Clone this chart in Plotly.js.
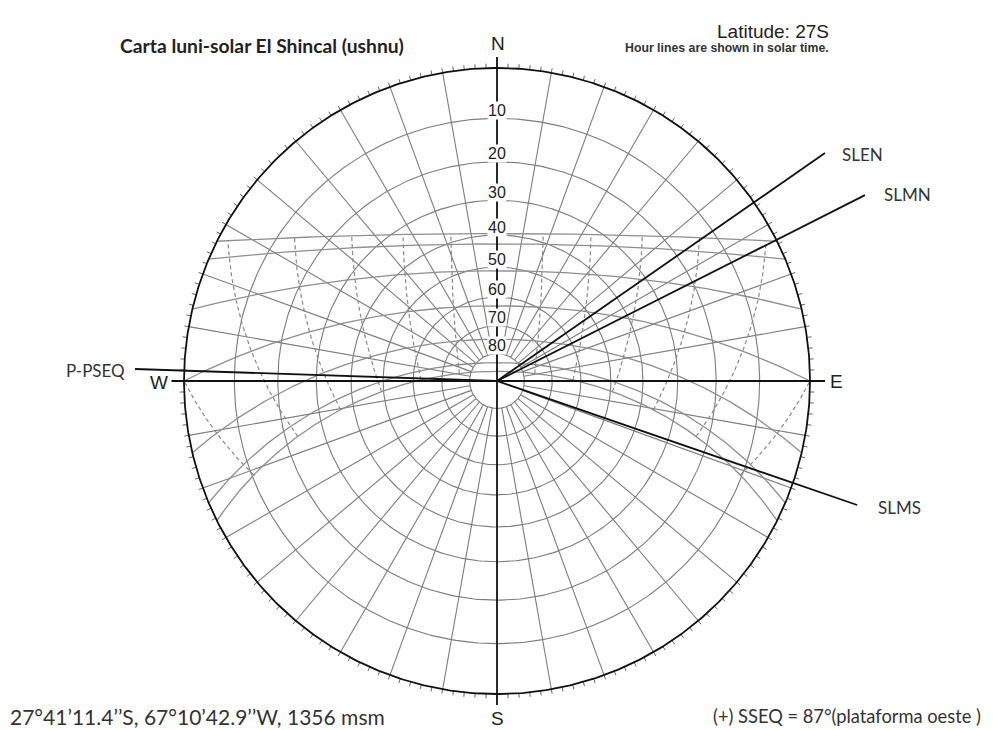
<!DOCTYPE html>
<html><head><meta charset="utf-8">
<script src="https://cdn.plot.ly/plotly-3.0.1.min.js"></script>
<style>html,body{margin:0;padding:0;background:#fff}#chart{width:993px;height:730px}</style>
</head><body><div id="chart"></div>
<script>
// ---------------- data ----------------
const latitude = -27;                         // degrees (27S)
const altitudeCircles = [10, 20, 30, 40, 50, 60, 70, 80];
const altitudeLabels = ['10', '20', '30', '40', '50', '60', '70', '80'];
const azimuthSpokes = [10, 20, 30, 40, 50, 60, 70, 80, 100, 110, 120, 130, 140, 150, 160, 170,
                       190, 200, 210, 220, 230, 240, 250, 260, 280, 290, 300, 310, 320, 330, 340, 350];
const sunDeclinations = [23.44, 20.3, 11.8, 0, -11.8, -20.3, -23.44];   // 21st of each month
const solarHours = [6, 7, 8, 9, 10, 11, 12, 13, 14, 15, 16, 17, 18];
const cardinalNames = ['N', 'E', 'S', 'W'];
const cardinalAz = [0, 90, 180, 270];
const alignmentNames = ['SLEN', 'SLMN', 'SLMS', 'P-PSEQ'];
const alignmentAz = [55.2, 63.2, 109.0, 271.9];
const tickStepDeg = 2;
const titleText = 'Carta luni-solar El Shincal (ushnu)';
const latitudeText = 'Latitude: 27S';
const noteText = 'Hour lines are shown in solar time.';
const coordText = '27°41’11.4’’S, 67°10’42.9’’W, 1356 msm';
const sseqText = '(+) SSEQ = 87°(plataforma oeste )';

// ---------------- layout helpers (pixel geometry) ----------------
const CX = 497, CY = 381, R = 313;
const alignmentReach = [1.276, 1.317, 1.217, 1.157];
const D = Math.PI / 180;
const px = p => (p - CX) / R;
const py = p => (CY - p) / R;

function rOf(alt) { return Math.tan((90 - alt) / 2 * D); }      // stereographic
function xyR(r, az) { return [r * Math.sin(az * D), r * Math.cos(az * D)]; }
function xy(alt, az) { return xyR(rOf(alt), az); }

function sunAltAz(dec, H) {
  const phi = latitude * D, d = dec * D, h = H * D;
  const sa = Math.sin(phi) * Math.sin(d) + Math.cos(phi) * Math.cos(d) * Math.cos(h);
  const alt = Math.asin(Math.max(-1, Math.min(1, sa))) / D;
  const az = Math.atan2(-Math.sin(h) * Math.cos(d),
    Math.cos(phi) * Math.sin(d) - Math.sin(phi) * Math.cos(d) * Math.cos(h)) / D;
  return [alt, (az + 360) % 360];
}

const traces = [];
function addLines(segs, color, width, dash) {
  const X = [], Y = [];
  segs.forEach(s => { s.forEach(p => { X.push(p[0]); Y.push(p[1]); }); X.push(null); Y.push(null); });
  traces.push({ type: 'scatter', mode: 'lines', x: X, y: Y, hoverinfo: 'skip', showlegend: false,
    line: { color: color, width: width, dash: dash || 'solid' } });
}

// altitude circles
addLines(altitudeCircles.map(a => { const s = []; for (let z = 0; z <= 360; z += 1) s.push(xy(a, z)); return s; }), '#7c7c7c', 1.1);
// azimuth spokes (from 80 deg altitude circle to horizon)
addLines(azimuthSpokes.map(z => [xy(80, z), xy(0, z)]), '#7c7c7c', 1.1);

// sun paths
addLines(sunDeclinations.map(dec => {
  const phi = latitude * D;
  const c = -Math.tan(phi) * Math.tan(dec * D);
  const H0 = Math.acos(Math.max(-1, Math.min(1, c))) / D;
  const s = [];
  for (let i = 0; i <= 240; i++) {
    const H = -H0 + 2 * H0 * i / 240;
    const aa = sunAltAz(dec, H);
    s.push(xy(Math.max(0, aa[0]), aa[1]));
  }
  return s;
}), '#8e8e8e', 1.3);

// hour lines (dashed)
addLines(solarHours.map(hr => {
  const H = 15 * (hr - 12);
  const dmin = Math.min(...sunDeclinations), dmax = Math.max(...sunDeclinations);
  const s = []; const N = 300;
  let prev = null;
  for (let i = 0; i <= N; i++) {
    const dec = dmin + (dmax - dmin) * i / N;
    const aa = sunAltAz(dec, H);
    if (prev && (prev.alt >= 0) !== (aa[0] >= 0)) {
      let lo = prev.dec, hi = dec;
      for (let k = 0; k < 40; k++) {
        const mid = (lo + hi) / 2; const am = sunAltAz(mid, H)[0];
        if ((am >= 0) === (prev.alt >= 0)) lo = mid; else hi = mid;
      }
      const ac = sunAltAz((lo + hi) / 2, H);
      s.push(xy(0, ac[1]));
    }
    if (aa[0] >= 0) s.push(xy(aa[0], aa[1]));
    prev = { alt: aa[0], dec: dec };
  }
  return s;
}).filter(s => s.length > 1), '#888', 1.2, '4px,3px');

// outer tick marks
const tickSegs = [];
for (let z = 0; z < 360; z += tickStepDeg) tickSegs.push([xyR(1, z), xyR(1 + 4.5 / R, z)]);
addLines(tickSegs, '#666', 1);

// horizon circle
{ const s = []; for (let z = 0; z <= 360; z += 0.5) s.push(xy(0, z)); addLines([s], '#111', 1.8); }

// main axes N-S and E-W
addLines([[xyR(1.035, 0), xyR(1.035, 180)], [xyR(1.04, 270), xyR(1.048, 90)]], '#111', 1.8);

// alignment lines
addLines(alignmentAz.map((z, i) => [[0, 0], xyR(alignmentReach[i], z)]), '#111', 1.8);

// ---------------- annotations ----------------
const ann = [];
altitudeCircles.forEach((a, i) => ann.push({ x: 0, y: rOf(a), xref: 'x', yref: 'y', text: altitudeLabels[i],
  showarrow: false, yanchor: 'middle', yshift: 8, bgcolor: '#fff', borderpad: 0,
  font: { family: 'Liberation Sans, Arial', size: 16, color: '#222' } }));
const cardPos = [[498, 43], [836, 381], [497, 718], [159, 382]];
cardinalNames.forEach((n, i) => ann.push({ x: px(cardPos[i][0]), y: py(cardPos[i][1]), xref: 'x', yref: 'y', text: n,
  showarrow: false, font: { family: 'Liberation Sans, Arial', size: 19, color: '#222' } }));
const alignLabelPos = [[840, 154], [882, 194], [876, 507], [127, 370]];
alignmentNames.forEach((n, i) => ann.push({ x: px(alignLabelPos[i][0]), y: py(alignLabelPos[i][1]), xref: 'x', yref: 'y',
  text: n, showarrow: false, xanchor: i === 3 ? 'right' : 'left',
  font: { family: 'Lato, Carlito, sans-serif', size: 17, color: '#333' } }));
ann.push({ x: px(118), y: py(45), xref: 'x', yref: 'y', text: '<b>' + titleText + '</b>', showarrow: false, xanchor: 'left',
  font: { family: 'Lato, sans-serif', size: 19.3, color: '#222' } });
ann.push({ x: px(831), y: py(31), xref: 'x', yref: 'y', text: latitudeText, showarrow: false, xanchor: 'right',
  font: { family: 'Liberation Sans, Arial', size: 19, color: '#222' } });
ann.push({ x: px(831), y: py(48), xref: 'x', yref: 'y', text: '<b>' + noteText + '</b>', showarrow: false, xanchor: 'right',
  font: { family: 'Liberation Sans, Arial', size: 12.3, color: '#333' } });
ann.push({ x: px(8), y: py(716), xref: 'x', yref: 'y', text: coordText, showarrow: false, xanchor: 'left',
  font: { family: 'Lato, sans-serif', size: 21, color: '#333' } });
ann.push({ x: px(983), y: py(716), xref: 'x', yref: 'y', text: sseqText, showarrow: false, xanchor: 'right',
  font: { family: 'Lato, sans-serif', size: 18.3, color: '#333' } });

const layout = {
  width: 993, height: 730, margin: { l: 0, r: 0, t: 0, b: 0 },
  paper_bgcolor: '#fff', plot_bgcolor: '#fff', showlegend: false,
  xaxis: { range: [px(0), px(993)], visible: false, fixedrange: true },
  yaxis: { range: [py(730), py(0)], visible: false, fixedrange: true },
  annotations: ann
};
Plotly.newPlot('chart', traces, layout, { displayModeBar: false, staticPlot: true });
</script></body></html>
